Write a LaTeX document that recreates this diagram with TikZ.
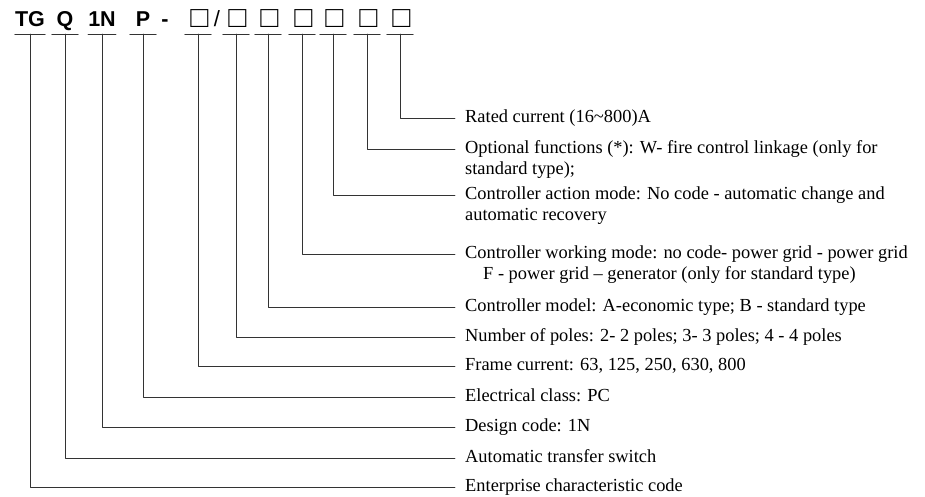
\documentclass[tikz,border=0pt]{standalone}
\usepackage{fontspec}
\setmainfont{Liberation Serif}
\newfontfamily\codefont{Liberation Sans}
\begin{document}
\begin{tikzpicture}[x=1pt, y=-1pt, line join=round, line cap=round,
	code/.style={font=\codefont\fontsize{21.5}{24}\selectfont\bfseries, anchor=base, inner xsep=0pt, inner ysep=0pt, text height=15pt, text depth=7pt, minimum width=26pt},
	sq/.style={code, font=\codefont\fontsize{30}{34}\selectfont, text height=18pt, text depth=6pt},
	desc/.style={font=\fontsize{18.4}{21}\selectfont, anchor=base west, inner xsep=10pt, inner ysep=0pt},
	lead/.style={draw=black!80, line width=.9pt}]
	\useasboundingbox (0,0) rectangle (925,497);
	\def\cy{27} \def\lx{455}
	% model code
	\node[code] (tg) at (30,\cy) {TG};
	\node[code] (q) at (65,\cy) {Q};
	\node[code] (n) at (102,\cy) {1N};
	\node[code] (p) at (143,\cy) {P};
	\node[code, minimum width=0pt] (hy) at (165,\cy) {-};
	\node[sq] (b0) at (198,\cy+1) {\kern3pt□};
	\node[code, font=\codefont\fontsize{22}{24}\selectfont, minimum width=0pt] (sl) at (217,\cy) {/};
	\foreach \x [count=\i] in {236,268,302,333,367,400}
		\node[sq] (b\i) at (\x,\cy+1) {\kern3pt□};
	\foreach \c in {tg,q,n,p,b0,b1,b2,b3,b4,b5,b6}
		\draw[lead] (\c.south west) -- (\c.south east);
	% meanings
	\node[desc] (rated) at (\lx,122.5) {Rated current (16\textasciitilde800)A};
	\node[desc] (option) at (\lx,153.5) {\begin{tabular}[t]{@{}l@{}}Optional functions (*): W- fire control linkage (only for\\standard type);\end{tabular}};
	\node[desc] (action) at (\lx,199.5) {\begin{tabular}[t]{@{}l@{}}Controller action mode: No code - automatic change and\\automatic recovery\end{tabular}};
	\node[desc] (work) at (\lx,258.5) {\begin{tabular}[t]{@{}l@{}}Controller working mode: no code- power grid - power grid\\\hspace*{18pt}F - power grid -- generator (only for standard type)\end{tabular}};
	\node[desc] (model) at (\lx,311.5) {Controller model: A-economic type; B - standard type};
	\node[desc] (poles) at (\lx,341.5) {Number of poles: 2- 2 poles; 3- 3 poles; 4 - 4 poles};
	\node[desc] (frame) at (\lx,370.5) {Frame current: 63, 125, 250, 630, 800};
	\node[desc] (elec) at (\lx,401.5) {Electrical class: PC};
	\node[desc] (design) at (\lx,431.5) {Design code: 1N};
	\node[desc] (auto) at (\lx,462.5) {Automatic transfer switch};
	\node[desc] (ent) at (\lx,491.5) {Enterprise characteristic code};
	\foreach \c/\d in {b6/rated,b5/option,b4/action,b3/work,b2/model,b1/poles,b0/frame,p/elec,n/design,q/auto,tg/ent}
		\draw[lead] (\c.south) |- ([yshift=4.5pt]\d.base west);
\end{tikzpicture}
\end{document}
